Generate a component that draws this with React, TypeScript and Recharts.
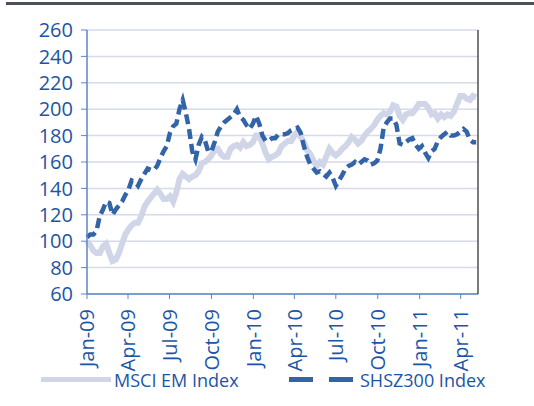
import React from 'react';
import { LineChart, Line, XAxis, YAxis, CartesianGrid } from 'recharts';

const DAY = 86400000;
const START = Date.UTC(2009, 0, 1);
const END = Date.UTC(2011, 4, 9);

// tick labels for the date axis (quarter starts)
const quarterDates = [
  '2009-01-01', '2009-04-01', '2009-07-01', '2009-10-01', '2010-01-01',
  '2010-04-01', '2010-07-01', '2010-10-01', '2011-01-01', '2011-04-01',
];
const quarterLabels = [
  'Jan-09', 'Apr-09', 'Jul-09', 'Oct-09', 'Jan-10',
  'Apr-10', 'Jul-10', 'Oct-10', 'Jan-11', 'Apr-11',
];
const yTicks = [60, 80, 100, 120, 140, 160, 180, 200, 220, 240, 260];

// weekly index levels, rebased to 100 at start of 2009
const msci = [
  100, 97, 93, 91, 91, 96, 98, 91, 85, 86, 91, 98, 105, 109, 112, 114, 114, 119, 126, 130,
  133, 136, 139, 136, 132, 132, 134, 130, 137, 147, 151, 149, 147, 149, 150, 153, 159, 160, 162, 165,
  169, 170, 166, 164, 164, 170, 172, 173, 171, 175, 172, 173, 175, 180, 180, 174, 167, 162, 164, 165,
  167, 172, 174, 176, 176, 180, 183, 179, 175, 169, 166, 161, 157, 160, 158, 164, 170, 167, 165, 167,
  170, 172, 175, 179, 177, 174, 176, 180, 183, 185, 188, 192, 195, 197, 196, 198, 203, 202, 195, 192,
  196, 197, 197, 200, 204, 204, 204, 201, 196, 197, 193, 196, 194, 196, 195, 198, 204, 210, 210, 208,
  207, 210, 209,
];
const shsz = [
  103, 105, 105, 108, 119, 124, 130, 129, 120, 124, 127, 130, 135, 139, 146, 145, 142, 147, 151, 155,
  154, 154, 157, 163, 168, 172, 182, 187, 189, 200, 207, 197, 185, 168, 162, 173, 179, 176, 168, 168,
  175, 183, 187, 190, 192, 194, 196, 200, 194, 192, 188, 185, 189, 195, 189, 180, 176, 176, 178, 178,
  181, 181, 181, 182, 184, 185, 186, 182, 172, 164, 158, 155, 152, 153, 151, 149, 152, 148, 142, 146,
  150, 155, 157, 158, 160, 158, 160, 162, 161, 158, 159, 161, 170, 186, 190, 193, 193, 188, 174, 173,
  175, 177, 178, 173, 170, 172, 167, 163, 168, 170, 176, 179, 181, 183, 180, 180, 181, 183, 185, 183,
  177, 175, 175,
];

const data = msci.map((v, i) => ({ t: START + i * 7 * DAY, msci: v, shsz: shsz[i] }));
const xTicks = quarterDates.map((d) => Date.parse(d));

const FONT = '"Open Sans", sans-serif';
const TEXT = '#1c55a5';
const MSCI_COLOR = '#d0d5e8';
const SHSZ_COLOR = '#3364a8';
const AXIS_BLUE = '#5b87c4';

const XTick = (props: any) => {
  const { x, y, payload } = props;
  const i = xTicks.indexOf(payload.value);
  return (
    <text
      x={x}
      y={y}
      transform={`rotate(-90, ${x}, ${y})`}
      textAnchor="end"
      dy="0.36em"
      fill={TEXT}
      fontSize={20}
      fontFamily={FONT}
    >
      {quarterLabels[i]}
    </text>
  );
};

// right axis: tick marks cross the axis line
const RightTick = (props: any) => {
  const { x, y, payload } = props;
  const ax = x - 13;
  return (
    <g>
      <line x1={ax - 5} x2={ax + 5} y1={y} y2={y} stroke="#333" strokeWidth={1.3} />
      <text x={x} y={y} dy="0.36em" textAnchor="start" fill={TEXT} fontSize={20} fontFamily={FONT}>
        {payload.value}
      </text>
    </g>
  );
};

export default function App() {
  return (
    <div style={{ position: 'absolute', left: 0, top: 0, width: 534, height: 406, background: '#fff' }}>
      <div style={{ position: 'absolute', left: 6, top: 2, width: 528, height: 3, background: '#4b5057' }} />
      <LineChart width={534} height={406} data={data} margin={{ top: 30, right: 0, bottom: 32, left: 0 }}>
        <CartesianGrid yAxisId="left" vertical={false} stroke="#d6daeb" strokeWidth={1.5} />
        <XAxis
          dataKey="t"
          type="number"
          domain={[START, END]}
          ticks={xTicks}
          height={80}
          interval={0}
          axisLine={{ stroke: AXIS_BLUE, strokeWidth: 1.5 }}
          tickLine={{ stroke: AXIS_BLUE }}
          tickSize={5}
          tickMargin={10}
          tick={<XTick />}
        />
        <YAxis
          yAxisId="left"
          type="number"
          domain={[60, 260]}
          ticks={yTicks}
          interval={0}
          width={87}
          axisLine={{ stroke: AXIS_BLUE, strokeWidth: 1.5 }}
          tickLine={{ stroke: AXIS_BLUE }}
          tickSize={6}
          tickMargin={8}
          tick={{ fill: TEXT, fontSize: 20, fontFamily: FONT }}
        />
        <YAxis
          yAxisId="right"
          orientation="right"
          type="number"
          domain={[60, 260]}
          ticks={yTicks}
          interval={0}
          width={56}
          axisLine={{ stroke: '#333', strokeWidth: 1.3 }}
          tickLine={false}
          tickSize={5}
          tickMargin={8}
          tick={<RightTick />}
        />
        <Line
          yAxisId="left"
          dataKey="msci"
          type="linear"
          stroke={MSCI_COLOR}
          strokeWidth={6}
          dot={false}
          isAnimationActive={false}
        />
        <Line
          yAxisId="left"
          dataKey="shsz"
          type="linear"
          stroke={SHSZ_COLOR}
          strokeWidth={4.5}
          strokeDasharray="10 5"
          dot={false}
          isAnimationActive={false}
        />
      </LineChart>
      {/* legend */}
      <div style={{ position: 'absolute', left: 41, top: 377, width: 70, height: 5, background: MSCI_COLOR }} />
      <div style={{ position: 'absolute', left: 114, top: 367, fontFamily: FONT, fontSize: 18, color: TEXT, lineHeight: '26px', whiteSpace: 'nowrap' }}>
        MSCI EM Index
      </div>
      <div style={{ position: 'absolute', left: 289, top: 377, width: 24, height: 5, background: SHSZ_COLOR }} />
      <div style={{ position: 'absolute', left: 329, top: 377, width: 24, height: 5, background: SHSZ_COLOR }} />
      <div style={{ position: 'absolute', left: 360, top: 367, fontFamily: FONT, fontSize: 18, color: TEXT, lineHeight: '26px', whiteSpace: 'nowrap' }}>
        SHSZ300 Index
      </div>
    </div>
  );
}
